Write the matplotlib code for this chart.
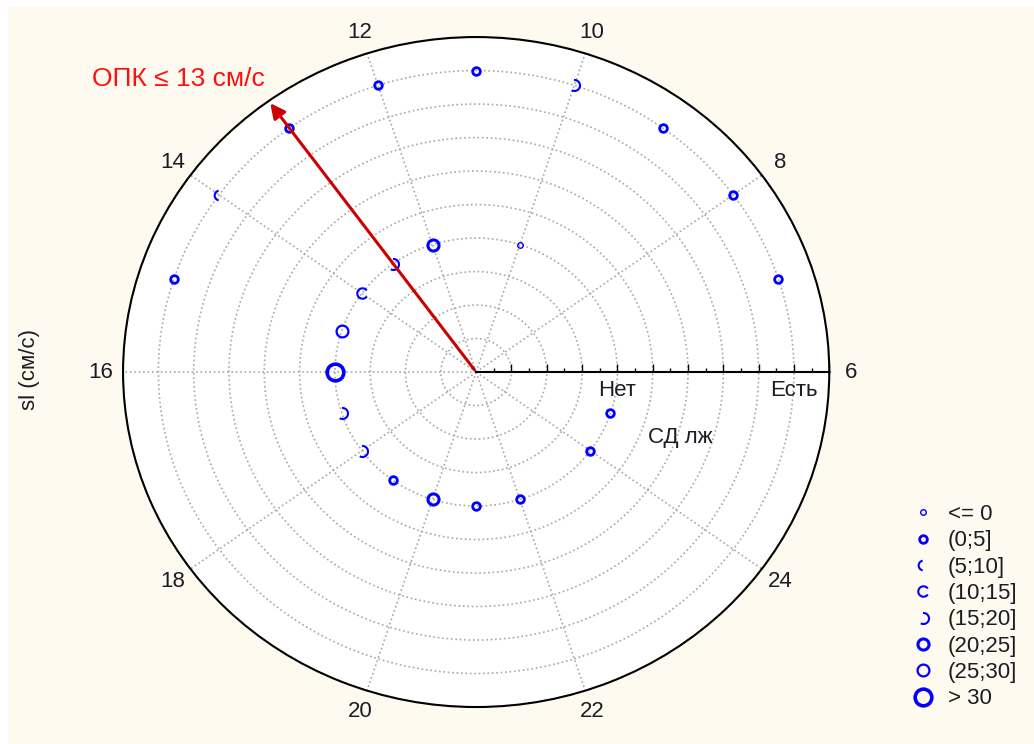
import numpy as np
import matplotlib.pyplot as plt
from matplotlib.lines import Line2D
from matplotlib.path import Path
from matplotlib.patches import Rectangle

plt.rcParams['font.family'] = ['Liberation Sans', 'DejaVu Sans']

# angular variable (6..26 around the circle), group on the radius, sl as marker size
inner_t = [10, 12, 13, 14, 15, 16, 17, 18, 19, 20, 21, 22, 24, 25]
inner_sl = [0, 21, 17, 12, 27, 34, 18, 16, 4, 23, 3, 1, 3, 2]
outer_t = [7, 8, 9, 10, 11, 12, 13, 14, 15]
outer_sl = [3, 4, 2, 17, 2, 3, 2, 7, 3]
groups = ["Нет", "Есть"]
group_r = [1, 2]

theta_ticks = [6, 8, 10, 12, 14, 16, 18, 20, 22, 24]
sl_edges = [0, 5, 10, 15, 20, 25, 30]
sl_labels = ["<= 0", "(0;5]", "(5;10]", "(10;15]", "(15;20]", "(20;25]", "(25;30]", "> 30"]
opk = 13


def to_theta(v):
    return np.deg2rad((np.asarray(v, dtype=float) - 6) * 18)


# marker look per sl class: (marker, size, edge width)
styles = [
    ('o', 4.0, 1.0),
    ('o', 5.5, 2.0),
    (Path.arc(100, 260), 7.0, 1.5),
    (Path.arc(35, 325), 7.5, 1.5),
    (Path.arc(-120, 95), 8.0, 1.5),
    ('o', 8.0, 2.2),
    ('o', 8.5, 1.6),
    ('o', 12.0, 2.6),
]

cream = '#fffaf0'
txt = '#1c1c24'

fig = plt.figure(figsize=(10.34, 7.44), dpi=100)
fig.patch.set_facecolor('white')
fig.patches.append(Rectangle((0.008, 0), 1, 0.99, transform=fig.transFigure,
                             facecolor=cream, edgecolor='none', zorder=-10))

ax = fig.add_axes([0.119, 0.0497, 0.683, 0.9005], projection='polar')
ax.set_aspect('auto')
ax.set_facecolor('white')
ax.set_ylim(0.2, 2.2)

rt = np.round(np.arange(0.4, 2.21, 0.2), 2)
ax.set_yticks(rt)
ax.set_yticklabels([''] * len(rt))
ax.set_xticks(to_theta(theta_ticks))
ax.set_xticklabels([str(v) for v in theta_ticks])
ax.set_xticks(to_theta(np.arange(7, 26, 2)), minor=True)
ax.tick_params(axis='x', which='major', direction='in', length=6, width=1,
               colors='k', pad=9, labelsize=16, labelcolor=txt)
ax.tick_params(axis='x', which='minor', direction='in', length=4, width=1, colors='k')
ax.xaxis.grid(True, color='#a8a8a8', ls=':', lw=1.2)
ax.yaxis.grid(True, color='#a8a8a8', ls=':', lw=1.2)
ax.spines['polar'].set_color('k')
ax.spines['polar'].set_linewidth(1.5)

# radial axis along 6
ax.plot([0, 0], [0.2, 2.2], color='k', lw=1.5, clip_on=False, zorder=3)
ax.plot(np.zeros(len(rt)), rt, ls='none', marker=2, ms=6, mew=1, color='k', clip_on=False, zorder=3)
rminor = np.round(np.arange(0.3, 2.2, 0.2), 2)
ax.plot(np.zeros(len(rminor)), rminor, ls='none', marker=2, ms=3, mew=1, color='k', clip_on=False, zorder=3)
for g, r in zip(groups, group_r):
    ax.annotate(g, xy=(0, r), xytext=(0, -6), textcoords='offset points',
                ha='center', va='top', fontsize=16, color=txt)

# points
t_all = np.concatenate([inner_t, outer_t])
r_all = np.concatenate([np.full(len(inner_t), group_r[0]), np.full(len(outer_t), group_r[1])])
cls = np.digitize(np.concatenate([inner_sl, outer_sl]), sl_edges, right=True)
for k, (m, s, w) in enumerate(styles):
    sel = cls == k
    if sel.any():
        ax.plot(to_theta(t_all[sel]), r_all[sel], ls='none', marker=m, ms=s, mew=w,
                mec='#0000ff', mfc='none', zorder=4)

# OPK arrow
ax.annotate('', xy=(to_theta(opk), 2.2), xytext=(0, 0.2),
            arrowprops=dict(arrowstyle='-|>', color='#cc0000', lw=2.2, mutation_scale=22),
            annotation_clip=False, zorder=5)
fig.text(92 / 1034, 1 - 86 / 744, 'ОПК ≤ 13 см/с', color='#ff1010', fontsize=19,
         ha='left', va='baseline')

fig.text(680 / 1034, 1 - 437 / 744, 'СД лж', fontsize=16, color=txt, ha='center', va='center')
fig.text(30 / 1034, 1 - 370 / 744, 'sl (см/с)', fontsize=16, color=txt, rotation=90,
         ha='center', va='center')

handles = [Line2D([], [], ls='none', marker=m, ms=s, mew=w, mec='#0000ff', mfc='none')
           for m, s, w in styles]
fig.legend(handles, sl_labels, loc='upper left', bbox_to_anchor=(912 / 1034, 1 - 504 / 744),
           frameon=False, fontsize=16, handlelength=1.0, handletextpad=0.6,
           labelspacing=0.24, borderpad=0, borderaxespad=0, labelcolor=txt)

fig.savefig('out.png', dpi=100, facecolor=fig.get_facecolor())
